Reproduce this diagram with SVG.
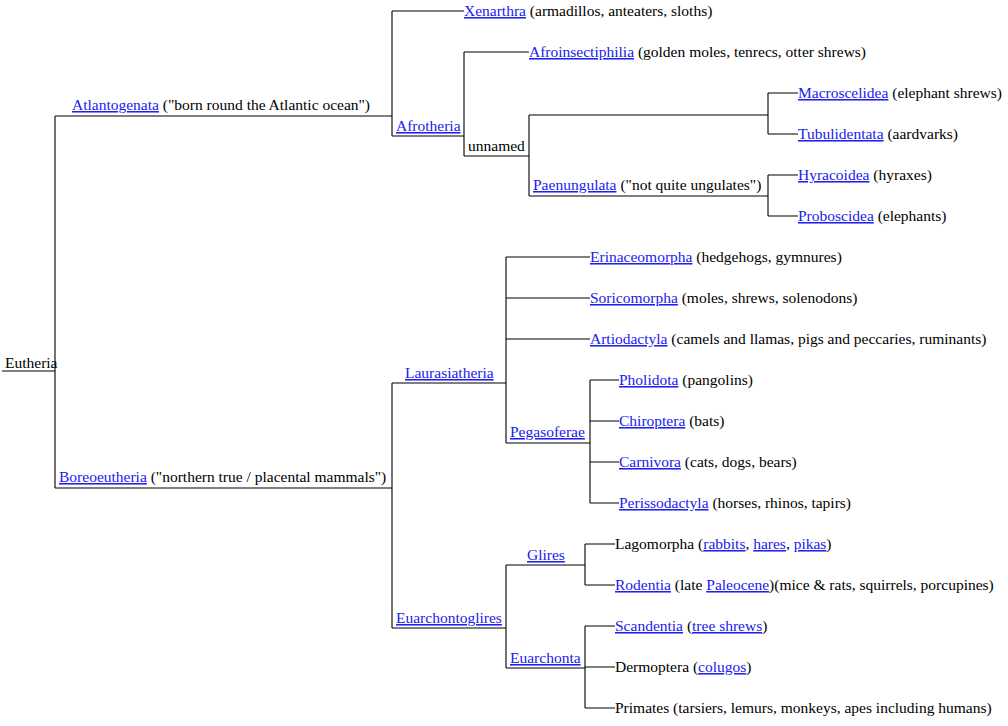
<svg xmlns="http://www.w3.org/2000/svg" width="1008" height="726" viewBox="0 0 1008 726">
<style>
text{font-family:"Liberation Serif","Times New Roman",serif;font-size:15.5px;fill:#000}
.l{fill:#2020ee;text-decoration:underline}
#connectors path{fill:none;stroke:#000;stroke-width:1.1}
</style>
<rect width="1008" height="726" fill="#fff"/>
<g id="connectors">
<path d="M2,371H55M55,116V488M55,116H392M55,488H392"/>
<path d="M392,11V136M392,11H464M392,136H464"/>
<path d="M464,52V156M464,52H529M464,156H529"/>
<path d="M529,115V196M529,115H768M529,196H768"/>
<path d="M768,93V134M768,93H798M768,134H798"/>
<path d="M768,175V216M768,175H798M768,216H798"/>
<path d="M392,383V628M392,383H506M392,628H506"/>
<path d="M506,257V443M506,257H590M506,298H590M506,339H590M506,443H590"/>
<path d="M590,380V503M590,380H619M590,421H619M590,462H619M590,503H619"/>
<path d="M506,565V668M506,565H585M506,668H585"/>
<path d="M585,544V585M585,544H615M585,585H615"/>
<path d="M585,626V708M585,626H615M585,667H615M585,708H615"/>
</g>
<g id="eutheria"><text x="5" y="368">Eutheria</text></g>
<g id="atlantogenata"><text x="72" y="110"><tspan class="l">Atlantogenata</tspan> ("born round the Atlantic ocean")</text></g>
<g id="boreoeutheria"><text x="59" y="482"><tspan class="l">Boreoeutheria</tspan> ("northern true / placental mammals")</text></g>
<g id="xenarthra"><text x="464" y="16"><tspan class="l">Xenarthra</tspan> (armadillos, anteaters, sloths)</text></g>
<g id="afrotheria"><text x="396" y="131"><tspan class="l">Afrotheria</tspan></text></g>
<g id="afroinsectiphilia"><text x="529" y="57"><tspan class="l">Afroinsectiphilia</tspan> (golden moles, tenrecs, otter shrews)</text></g>
<g id="unnamed"><text x="468" y="151">unnamed</text></g>
<g id="macroscelidea"><text x="798" y="98"><tspan class="l">Macroscelidea</tspan> (elephant shrews)</text></g>
<g id="tubulidentata"><text x="798" y="139"><tspan class="l">Tubulidentata</tspan> (aardvarks)</text></g>
<g id="paenungulata"><text x="533" y="190"><tspan class="l">Paenungulata</tspan> ("not quite ungulates")</text></g>
<g id="hyracoidea"><text x="798" y="180"><tspan class="l">Hyracoidea</tspan> (hyraxes)</text></g>
<g id="proboscidea"><text x="798" y="221"><tspan class="l">Proboscidea</tspan> (elephants)</text></g>
<g id="laurasiatheria"><text x="405" y="378"><tspan class="l">Laurasiatheria</tspan></text></g>
<g id="erinaceomorpha"><text x="590" y="262"><tspan class="l">Erinaceomorpha</tspan> (hedgehogs, gymnures)</text></g>
<g id="soricomorpha"><text x="590" y="303"><tspan class="l">Soricomorpha</tspan> (moles, shrews, solenodons)</text></g>
<g id="artiodactyla"><text x="590" y="344"><tspan class="l">Artiodactyla</tspan> (camels and llamas, pigs and peccaries, ruminants)</text></g>
<g id="pegasoferae"><text x="510" y="437"><tspan class="l">Pegasoferae</tspan></text></g>
<g id="pholidota"><text x="619" y="385"><tspan class="l">Pholidota</tspan> (pangolins)</text></g>
<g id="chiroptera"><text x="619" y="426"><tspan class="l">Chiroptera</tspan> (bats)</text></g>
<g id="carnivora"><text x="619" y="467"><tspan class="l">Carnivora</tspan> (cats, dogs, bears)</text></g>
<g id="perissodactyla"><text x="619" y="508"><tspan class="l">Perissodactyla</tspan> (horses, rhinos, tapirs)</text></g>
<g id="euarchontoglires"><text x="396" y="623"><tspan class="l">Euarchontoglires</tspan></text></g>
<g id="glires"><text x="527" y="560"><tspan class="l">Glires</tspan></text></g>
<g id="euarchonta"><text x="510" y="663"><tspan class="l">Euarchonta</tspan></text></g>
<g id="lagomorpha"><text x="615" y="549">Lagomorpha (<tspan class="l">rabbits</tspan>, <tspan class="l">hares</tspan>, <tspan class="l">pikas</tspan>)</text></g>
<g id="rodentia"><text x="615" y="590"><tspan class="l">Rodentia</tspan> (late <tspan class="l">Paleocene</tspan>)(mice &amp; rats, squirrels, porcupines)</text></g>
<g id="scandentia"><text x="615" y="631"><tspan class="l">Scandentia</tspan> (<tspan class="l">tree shrews</tspan>)</text></g>
<g id="dermoptera"><text x="615" y="672">Dermoptera (<tspan class="l">colugos</tspan>)</text></g>
<g id="primates"><text x="615" y="713">Primates (tarsiers, lemurs, monkeys, apes including humans)</text></g>
</svg>
